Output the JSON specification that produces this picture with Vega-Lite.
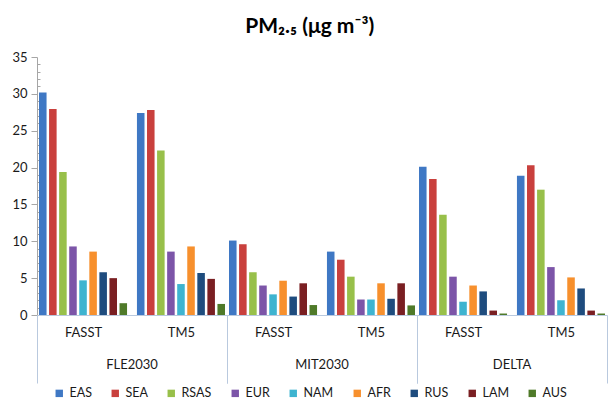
{
  "$schema": "https://vega.github.io/schema/vega-lite/v6.json",
  "padding": {"left": 11, "top": 16, "right": 2, "bottom": 2},
  "background": "white",
  "title": {"text": "PM₂.₅ (μg  m⁻³)", "font": "Lato", "fontSize": 21, "fontWeight": "bold", "color": "#000000", "anchor": "middle", "offset": 14},
  "data": {"values": [
    {"scenario": "FLE2030", "model": "FASST", "region": "EAS", "value": 30.2},
    {"scenario": "FLE2030", "model": "FASST", "region": "SEA", "value": 27.95},
    {"scenario": "FLE2030", "model": "FASST", "region": "RSAS", "value": 19.4},
    {"scenario": "FLE2030", "model": "FASST", "region": "EUR", "value": 9.3},
    {"scenario": "FLE2030", "model": "FASST", "region": "NAM", "value": 4.7},
    {"scenario": "FLE2030", "model": "FASST", "region": "AFR", "value": 8.6},
    {"scenario": "FLE2030", "model": "FASST", "region": "RUS", "value": 5.8},
    {"scenario": "FLE2030", "model": "FASST", "region": "LAM", "value": 5.0},
    {"scenario": "FLE2030", "model": "FASST", "region": "AUS", "value": 1.6},
    {"scenario": "FLE2030", "model": "TM5", "region": "EAS", "value": 27.4},
    {"scenario": "FLE2030", "model": "TM5", "region": "SEA", "value": 27.8},
    {"scenario": "FLE2030", "model": "TM5", "region": "RSAS", "value": 22.3},
    {"scenario": "FLE2030", "model": "TM5", "region": "EUR", "value": 8.6},
    {"scenario": "FLE2030", "model": "TM5", "region": "NAM", "value": 4.2},
    {"scenario": "FLE2030", "model": "TM5", "region": "AFR", "value": 9.3},
    {"scenario": "FLE2030", "model": "TM5", "region": "RUS", "value": 5.7},
    {"scenario": "FLE2030", "model": "TM5", "region": "LAM", "value": 4.9},
    {"scenario": "FLE2030", "model": "TM5", "region": "AUS", "value": 1.5},
    {"scenario": "MIT2030", "model": "FASST", "region": "EAS", "value": 10.1},
    {"scenario": "MIT2030", "model": "FASST", "region": "SEA", "value": 9.6},
    {"scenario": "MIT2030", "model": "FASST", "region": "RSAS", "value": 5.8},
    {"scenario": "MIT2030", "model": "FASST", "region": "EUR", "value": 4.0},
    {"scenario": "MIT2030", "model": "FASST", "region": "NAM", "value": 2.8},
    {"scenario": "MIT2030", "model": "FASST", "region": "AFR", "value": 4.65},
    {"scenario": "MIT2030", "model": "FASST", "region": "RUS", "value": 2.5},
    {"scenario": "MIT2030", "model": "FASST", "region": "LAM", "value": 4.3},
    {"scenario": "MIT2030", "model": "FASST", "region": "AUS", "value": 1.35},
    {"scenario": "MIT2030", "model": "TM5", "region": "EAS", "value": 8.6},
    {"scenario": "MIT2030", "model": "TM5", "region": "SEA", "value": 7.5},
    {"scenario": "MIT2030", "model": "TM5", "region": "RSAS", "value": 5.2},
    {"scenario": "MIT2030", "model": "TM5", "region": "EUR", "value": 2.1},
    {"scenario": "MIT2030", "model": "TM5", "region": "NAM", "value": 2.1},
    {"scenario": "MIT2030", "model": "TM5", "region": "AFR", "value": 4.3},
    {"scenario": "MIT2030", "model": "TM5", "region": "RUS", "value": 2.2},
    {"scenario": "MIT2030", "model": "TM5", "region": "LAM", "value": 4.3},
    {"scenario": "MIT2030", "model": "TM5", "region": "AUS", "value": 1.3},
    {"scenario": "DELTA", "model": "FASST", "region": "EAS", "value": 20.1},
    {"scenario": "DELTA", "model": "FASST", "region": "SEA", "value": 18.45},
    {"scenario": "DELTA", "model": "FASST", "region": "RSAS", "value": 13.6},
    {"scenario": "DELTA", "model": "FASST", "region": "EUR", "value": 5.2},
    {"scenario": "DELTA", "model": "FASST", "region": "NAM", "value": 1.8},
    {"scenario": "DELTA", "model": "FASST", "region": "AFR", "value": 4.0},
    {"scenario": "DELTA", "model": "FASST", "region": "RUS", "value": 3.2},
    {"scenario": "DELTA", "model": "FASST", "region": "LAM", "value": 0.6},
    {"scenario": "DELTA", "model": "FASST", "region": "AUS", "value": 0.2},
    {"scenario": "DELTA", "model": "TM5", "region": "EAS", "value": 18.9},
    {"scenario": "DELTA", "model": "TM5", "region": "SEA", "value": 20.3},
    {"scenario": "DELTA", "model": "TM5", "region": "RSAS", "value": 17.0},
    {"scenario": "DELTA", "model": "TM5", "region": "EUR", "value": 6.5},
    {"scenario": "DELTA", "model": "TM5", "region": "NAM", "value": 2.0},
    {"scenario": "DELTA", "model": "TM5", "region": "AFR", "value": 5.1},
    {"scenario": "DELTA", "model": "TM5", "region": "RUS", "value": 3.6},
    {"scenario": "DELTA", "model": "TM5", "region": "LAM", "value": 0.6},
    {"scenario": "DELTA", "model": "TM5", "region": "AUS", "value": 0.2}
  ]},
  "facet": {
    "column": {
      "field": "scenario", "type": "nominal", "sort": ["FLE2030", "MIT2030", "DELTA"],
      "header": {"title": null, "labelOrient": "bottom", "labelFont": "Lato", "labelFontSize": 13, "labelColor": "#1a1a1a", "labelPadding": -25}
    }
  },
  "spacing": 0,
  "spec": {
    "width": 190,
    "height": 258,
    "mark": {"type": "bar"},
    "encoding": {
      "x": {
        "field": "model", "type": "nominal", "sort": ["FASST", "TM5"],
        "scale": {"paddingInner": 0.06, "paddingOuter": 0},
        "axis": {
          "title": null, "labelAngle": 0, "labelFont": "Lato", "labelFontSize": 13, "labelColor": "#1a1a1a", "labelPadding": -57,
          "domainColor": "#b9c9de", "tickColor": "#b9c9de", "tickBand": "extent", "tickSize": 68,
          "tickOpacity": {"condition": {"test": "datum.value === 'FASST' && !datum.extra", "value": 0}, "value": 1}
        }
      },
      "xOffset": {
        "field": "region", "type": "nominal",
        "sort": ["EAS", "SEA", "RSAS", "EUR", "NAM", "AFR", "RUS", "LAM", "AUS"],
        "scale": {"paddingInner": 0.25, "paddingOuter": 0.2}
      },
      "y": {
        "field": "value", "type": "quantitative",
        "scale": {"domain": [0, 35], "nice": false},
        "axis": {
          "title": null, "grid": false,
          "values": [0,1,2,3,4,5,6,7,8,9,10,11,12,13,14,15,16,17,18,19,20,21,22,23,24,25,26,27,28,29,30,31,32,33,34,35],
          "labelExpr": "datum.value % 5 === 0 ? datum.label : ''",
          "labelFont": "Lato", "labelFontSize": 13, "labelColor": "#1a1a1a", "labelPadding": 4,
          "domainColor": "#a6a6a6", "tickColor": "#a6a6a6",
          "tickSize": {"condition": {"test": "datum.value % 5 === 0", "value": 6}, "value": -3}
        }
      },
      "color": {
        "field": "region", "type": "nominal",
        "sort": ["EAS", "SEA", "RSAS", "EUR", "NAM", "AFR", "RUS", "LAM", "AUS"],
        "scale": {
          "domain": ["EAS", "SEA", "RSAS", "EUR", "NAM", "AFR", "RUS", "LAM", "AUS"],
          "range": ["#3f78c4", "#c9403d", "#98c04a", "#7c55a8", "#3eb4d0", "#f7902d", "#1e4c7e", "#7a1f22", "#4f7a29"]
        },
        "legend": {
          "title": null, "orient": "bottom", "direction": "horizontal",
          "symbolType": "square", "symbolSize": 55, "symbolStrokeWidth": 0,
          "labelFont": "Lato", "labelFontSize": 12.5, "labelColor": "#1a1a1a",
          "columnPadding": 17, "offset": 3
        }
      }
    }
  },
  "config": {"view": {"stroke": null}, "legend": {"layout": {"bottom": {"anchor": "middle"}}}}
}
